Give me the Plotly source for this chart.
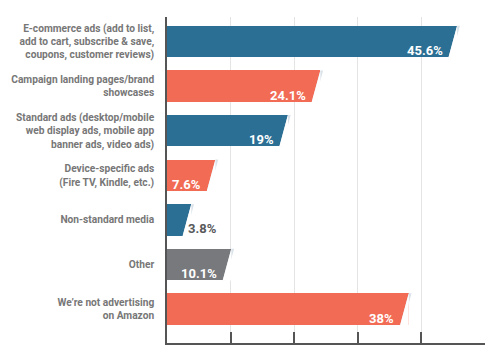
import plotly.graph_objects as go

categories = [
    "E-commerce ads (add to list,<br>add to cart, subscribe & save,<br>coupons, customer reviews)",
    "Campaign landing pages/brand<br>showcases",
    "Standard ads (desktop/mobile<br>web display ads, mobile app<br>banner ads, video ads)",
    "Device-specific ads<br>(Fire TV, Kindle, etc.)",
    "Non-standard media",
    "Other",
    "We’re not advertising<br>on Amazon",
]
values = [45.6, 24.1, 19.0, 7.6, 3.8, 10.1, 38.0]
value_labels = ["45.6%", "24.1%", "19%", "7.6%", "3.8%", "10.1%", "38%"]
BLUE = "#2b6f94"
SALMON = "#f26b55"
GRAY = "#78797c"
colors = [BLUE, SALMON, BLUE, SALMON, BLUE, GRAY, SALMON]
x_ticks = [0, 10, 20, 30, 40, 50]

LABEL_FONT = "Roboto, Liberation Sans, sans-serif"
W = 0.706      # bar thickness in category units
S = 1.34       # slant of bar end, in axis units

idx = list(range(len(categories)))

fig = go.Figure()
fig.add_trace(go.Bar(
    x=values, y=idx, orientation="h", width=W,
    marker=dict(color=colors, line=dict(width=0)),
    hoverinfo="skip",
))

shapes = []
annotations = []
for i, v in enumerate(values):
    top = i - W / 2
    bot = i + W / 2
    shapes.append(dict(type="path", xref="x", yref="y", layer="above",
                       path=f"M {v},{top} L {v+0.45},{top} L {v-S+0.45},{bot} L {v-S},{bot} Z",
                       fillcolor="#dbe3ea", line=dict(width=0)))
    shapes.append(dict(type="path", xref="x", yref="y", layer="above",
                       path=f"M {v+0.02},{top} L {v+0.02},{bot+0.005} L {v-S},{bot+0.005} Z",
                       fillcolor="white", line=dict(width=0)))
    inside = v > 6
    annotations.append(dict(
        x=(v - S - 0.6) if inside else (v - S + 0.6), y=i + 0.2,
        xref="x", yref="y",
        xanchor="right" if inside else "left", yanchor="middle",
        text=f"<b>{value_labels[i]}</b>", showarrow=False,
        font=dict(family=LABEL_FONT, size=13, color="white" if inside else "#58595b"),
    ))

fig.update_layout(
    width=500, height=350,
    margin=dict(l=167, r=15, t=17, b=7),
    paper_bgcolor="white", plot_bgcolor="white",
    showlegend=False,
    shapes=shapes, annotations=annotations,
    bargap=0,
)
fig.update_xaxes(
    range=[0, 50], tickvals=x_ticks, showticklabels=False,
    showgrid=True, gridcolor="#e4e4e4", gridwidth=1,
    zeroline=False, showline=True, linecolor="#555555", linewidth=1.5,
    ticks="inside", ticklen=11, tickcolor="#555555", tickwidth=1.5,
    fixedrange=True, automargin=False,
)
fig.update_yaxes(
    range=[6.76, -0.55], tickvals=idx, ticktext=categories,
    showgrid=False, zeroline=False, showline=True, linecolor="#555555", linewidth=1.5,
    ticks="", ticklabelstandoff=9, automargin=False,
    tickfont=dict(family=LABEL_FONT, size=10.2, color="#777777", weight="bold"),
    fixedrange=True,
)
fig.write_html("out.html")
